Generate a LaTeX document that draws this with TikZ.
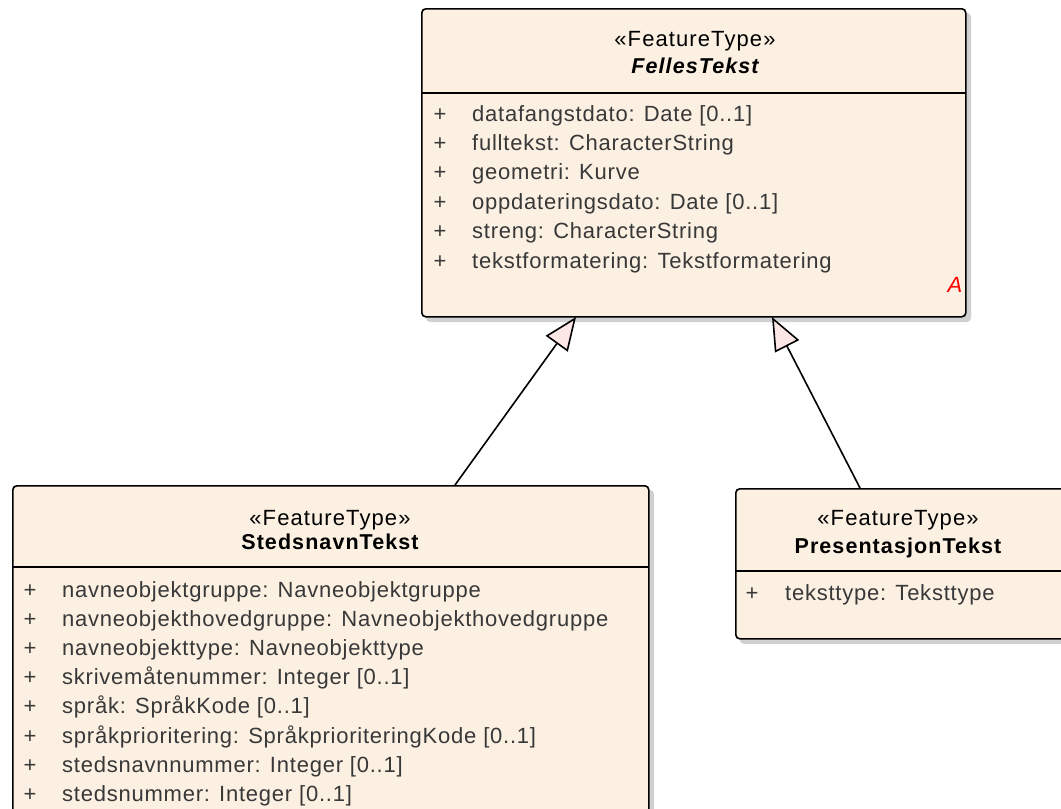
\documentclass[tikz,border=0pt]{standalone}
\usepackage{fontspec}
\setmainfont{Liberation Sans}
\newfontfamily\attrfont[LetterSpace=3.5]{Liberation Sans}
\newfontfamily\headfont[LetterSpace=5]{Liberation Sans}
\usetikzlibrary{arrows.meta}
\definecolor{boxfill}{HTML}{FBF0E2}
\definecolor{tipfill}{HTML}{FDE6E6}
\definecolor{attr}{HTML}{383838}
\definecolor{shadowc}{HTML}{D0D0D0}
\begin{document}
\begin{tikzpicture}[x=1pt,y=-1pt,
  umlbox/.style={draw=black, line width=1.6pt, fill=boxfill, rounded corners=4pt, anchor=north west, inner sep=0pt},
  shade/.style={fill=shadowc, rounded corners=4pt},
  stereo/.style={font=\headfont\fontsize{22}{24}\selectfont, text=black, anchor=base},
  cname/.style={font=\headfont\fontsize{21.5}{24}\selectfont\bfseries, text=black, anchor=base},
  plus/.style={font=\attrfont\fontsize{22}{24}\selectfont, text=attr, anchor=base},
  attrtext/.style={font=\attrfont\fontsize{22}{24}\selectfont, text=attr, anchor=base west, inner sep=0pt},
  sepline/.style={line width=1.6pt, draw=black},
  gen/.style={line width=1.6pt, draw=black, -{Triangle[length=33pt,width=27pt,fill=tipfill,line width=1.6pt]}}
]
\useasboundingbox (0,0) rectangle (1061,809);
\clip (0,0) rectangle (1061,809);
\fill[white] (0,0) rectangle (1061,809);

% shadows
\fill[shade] (426,13) rectangle (971,322);
\fill[shade] (17,490) rectangle (654,830);
\fill[shade] (740,493) rectangle (1080,644);

% FellesTekst
\node[umlbox, minimum width=544pt, minimum height=308pt] (felles) at (421,8) {};
\draw[sepline] (421,93) -- (965,93);
\node[stereo] (fst) at (695,46) {«FeatureType»};
\node[cname, font=\headfont\fontsize{21.5}{24}\selectfont\bfseries\itshape] (fn) at (695,73) {FellesTekst};
\foreach \t [count=\i] in {datafangstdato: Date [0..1], fulltekst: CharacterString, geometri: Kurve, oppdateringsdato: Date [0..1], streng: CharacterString, tekstformatering: Tekstformatering}{
  \node[plus] (fp\i) at (440,{121+29.4*(\i-1)}) {+};
  \node[attrtext] (fa\i) at (472,{121+29.4*(\i-1)}) {\t};
}
\node[anchor=base, text=red, font=\fontsize{22}{24}\selectfont\itshape] (fabs) at (955,292) {A};

% StedsnavnTekst
\node[umlbox, minimum width=636pt, minimum height=340pt] (steds) at (12,485) {};
\draw[sepline] (12,567) -- (648,567);
\node[stereo] (sst) at (330,525) {«FeatureType»};
\node[cname] (sn) at (330,549) {StedsnavnTekst};
\foreach \t [count=\i] in {navneobjektgruppe: Navneobjektgruppe, navneobjekthovedgruppe: Navneobjekthovedgruppe, navneobjekttype: Navneobjekttype, skrivemåtenummer: Integer [0..1], språk: SpråkKode [0..1], språkprioritering: SpråkprioriteringKode [0..1], stedsnavnnummer: Integer [0..1], stedsnummer: Integer [0..1]}{
  \node[plus] (sp\i) at (30,{597+29.2*(\i-1)}) {+};
  \node[attrtext] (sa\i) at (62,{597+29.2*(\i-1)}) {\t};
}

% PresentasjonTekst
\node[umlbox, minimum width=340pt, minimum height=150pt] (pres) at (735,488) {};
\draw[sepline] (735,571) -- (1075,571);
\node[stereo] (pst) at (898,525) {«FeatureType»};
\node[cname] (pn) at (898,553) {PresentasjonTekst};
\node[plus] (pp1) at (752,600) {+};
\node[attrtext] (pa1) at (785,600) {teksttype: Teksttype};

% generalizations
\coordinate (g1s) at (455,485);
\coordinate (g1e) at (576,317);
\coordinate (g2s) at (860,488);
\coordinate (g2e) at (772,317);
\draw[gen] (g1s) -- (g1e);
\draw[gen] (g2s) -- (g2e);
\end{tikzpicture}
\end{document}
